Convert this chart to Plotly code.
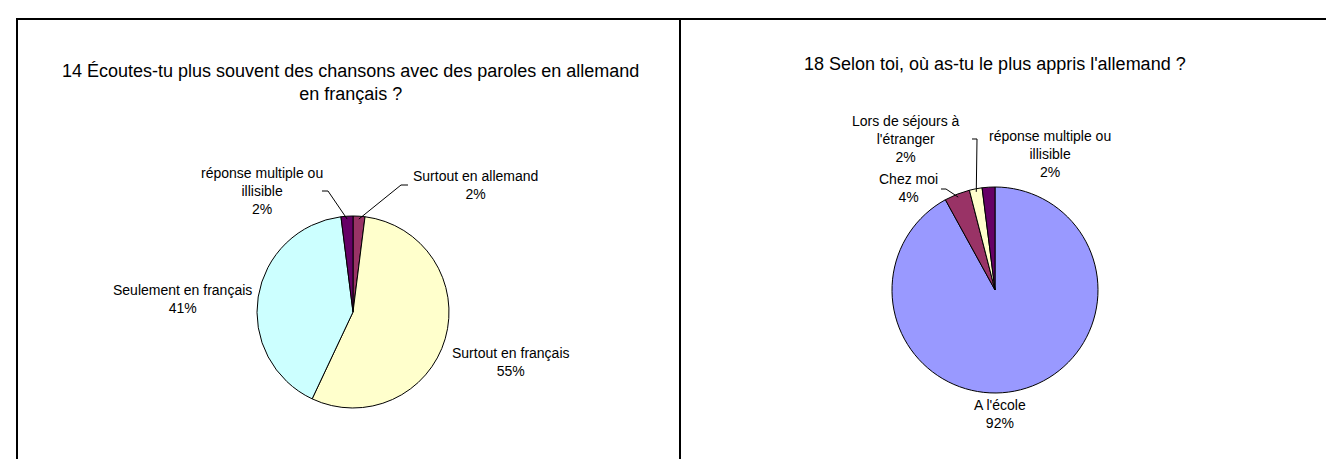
import math
import plotly.graph_objects as go

# chart 14
labels_14 = ["Surtout en allemand", "Surtout en français", "Seulement en français",
             "réponse multiple ou<br>illisible"]
values_14 = [2, 55, 41, 2]
colors_14 = ["#993366", "#FFFFCC", "#CCFFFF", "#660066"]
title_14 = "14 Écoutes-tu plus souvent des chansons avec des paroles en allemand<br>en français ?"

# chart 18
labels_18 = ["A l'école", "Chez moi", "Lors de séjours à<br>l'étranger",
             "réponse multiple ou<br>illisible"]
values_18 = [92, 4, 2, 2]
colors_18 = ["#9999FF", "#993366", "#FFFFCC", "#660066"]
title_18 = "18 Selon toi, où as-tu le plus appris l'allemand ?"

W, H = 1334, 459
FONT = "Arial, Liberation Sans, sans-serif"


def px_x(v):
    return v / W


def px_y(v):
    return 1 - v / H


def pie_domain(cx, cy, r):
    return dict(x=[px_x(cx - r), px_x(cx + r)], y=[px_y(cy + r), px_y(cy - r)])


pie_14 = (345, 304, 96)
pie_18 = (987, 282, 103)

fig = go.Figure()
fig.add_trace(go.Pie(labels=labels_14, values=values_14, sort=False, direction="clockwise",
                     rotation=0, textinfo="none", hoverinfo="label+percent",
                     marker=dict(colors=colors_14, line=dict(color="black", width=1)),
                     domain=pie_domain(*pie_14), showlegend=False))
fig.add_trace(go.Pie(labels=labels_18, values=values_18, sort=False, direction="clockwise",
                     rotation=0, textinfo="none", hoverinfo="label+percent",
                     marker=dict(colors=colors_18, line=dict(color="black", width=1)),
                     domain=pie_domain(*pie_18), showlegend=False))

# label centres in pixels, one per slice
pos_14 = [(467, 177), (503, 354), (174, 291), (254, 183)]
pos_18 = [(992, 406), (900, 180), (898, 131), (1042, 146)]

ann = []
shapes = []


def add_labels(labels, values, pos):
    total = sum(values)
    for lab, val, (x, y) in zip(labels, values, pos):
        ann.append(dict(x=px_x(x), y=px_y(y), xref="paper", yref="paper", showarrow=False,
                        xanchor="center", yanchor="middle", align="center",
                        text="%s<br>%d%%" % (lab, round(100 * val / total)),
                        font=dict(family=FONT, size=14, color="black")))


def slice_point(pie, values, i, k=0.97):
    cx, cy, r = pie
    total = sum(values)
    mid = (sum(values[:i]) + values[i] / 2) / total * 2 * math.pi
    return cx + k * r * math.sin(mid), cy - k * r * math.cos(mid)


add_labels(labels_14, values_14, pos_14)
add_labels(labels_18, values_18, pos_18)

ann.append(dict(x=px_x(343), y=px_y(75), xref="paper", yref="paper", showarrow=False,
                xanchor="center", yanchor="middle", align="center",
                text=title_14, font=dict(family=FONT, size=18, color="black")))
ann.append(dict(x=px_x(987), y=px_y(56), xref="paper", yref="paper", showarrow=False,
                xanchor="center", yanchor="middle", align="center",
                text=title_18, font=dict(family=FONT, size=18, color="black")))

# frame
for x0, y0, x1, y1 in [(8, 11, 1334, 11), (9, 11, 9, 459), (672, 11, 672, 459)]:
    shapes.append(dict(type="line", xref="paper", yref="paper", x0=px_x(x0), y0=px_y(y0),
                       x1=px_x(x1), y1=px_y(y1), line=dict(color="black", width=2)))

# leader lines: label elbow -> slice
leaders = [
    ((314, 183), (320, 183), slice_point(pie_14, values_14, 3)),
    ((400, 177), (393, 177), slice_point(pie_14, values_14, 0)),
    ((964, 131), (969, 131), slice_point(pie_18, values_18, 2)),
    ((933, 181), (938, 181), slice_point(pie_18, values_18, 1)),
]
for a, b, c in leaders:
    path = "M " + " L ".join("%f,%f" % (px_x(x), px_y(y)) for x, y in (a, b, c))
    shapes.append(dict(type="path", xref="paper", yref="paper", path=path,
                       line=dict(color="black", width=1)))

fig.update_layout(width=W, height=H, margin=dict(l=0, r=0, t=0, b=0),
                  paper_bgcolor="white", plot_bgcolor="white",
                  annotations=ann, shapes=shapes)

fig.write_html("out.html")
